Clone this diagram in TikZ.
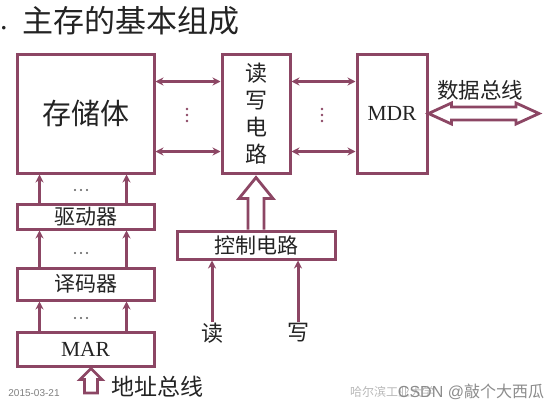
\documentclass[tikz,border=0pt]{standalone}
\usepackage{fontspec}
\setmainfont{Liberation Serif}
\newfontfamily\cjk{Noto Sans CJK SC}
\newfontfamily\sansf{Liberation Sans}
\usetikzlibrary{arrows.meta,calc}
\definecolor{mr}{RGB}{140,70,100}
\definecolor{tx}{RGB}{35,35,35}
\newcommand{\fs}[1]{\fontsize{#1}{#1}\selectfont}
\begin{document}
\begin{tikzpicture}[x=1pt,y=-1pt,
  box/.style={draw=mr,line width=3pt,inner sep=0pt,text=tx},
  lbl/.style={inner sep=0pt,text=tx},
  arr/.style={draw=mr,line width=3pt,-{Stealth[length=8pt,width=8pt]}},
  darr/.style={draw=mr,line width=3pt,{Stealth[length=8pt,width=8pt]}-{Stealth[length=8pt,width=8pt]}},
  hollow/.style={draw=mr,line width=2.8pt,fill=white,line join=miter}]
\useasboundingbox[fill=white] (0,0) rectangle (557,407);

% title
\node[lbl,font=\fs{30}] (tdot) at (4,28) {.};
\node[lbl,font=\cjk\fs{31}] (title) at (131,21) {主存的基本组成};

% left stack
\node[box,minimum width=137pt,minimum height=119pt,font=\cjk\fs{29}] (mem) at (85.5,113.5) {存储体};
\node[box,minimum width=137pt,minimum height=25pt,font=\cjk\fs{21}] (drv) at (85.5,216.5) {驱动器};
\node[box,minimum width=137pt,minimum height=32pt,font=\cjk\fs{21}] (dec) at (85.5,284) {译码器};
\node[box,minimum width=137pt,minimum height=34pt,font=\fs{21.5}] (mar) at (85.5,349) {MAR};

\foreach \a/\b in {drv/mem, dec/drv, mar/dec} {
  \draw[arr] ([xshift=24pt]\a.north west) -- ([xshift=24pt]\b.south west);
  \draw[arr] ([xshift=-29pt]\a.north east) -- ([xshift=-29pt]\b.south east);
}
% horizontal ellipsis dots
\foreach \y in {190,253,318}
  \foreach \dx in {-6,0,6}
    \fill[tx!75] (81+\dx,\y) circle (1.2pt);

% read/write circuit and MDR
\node[box,minimum width=68pt,minimum height=119pt,align=center,font=\cjk\fontsize{22}{27}\selectfont] (rw) at (256,113.5) {读\\写\\电\\路};
\node[box,minimum width=70pt,minimum height=119pt,font=\fs{21.5}] (mdr) at (392,113.5) {MDR};

\draw[darr] ([yshift=-29pt]mem.north east) -- ([yshift=-29pt]rw.north west);
\draw[darr] ([yshift=23pt]mem.south east) -- ([yshift=23pt]rw.south west);
\draw[darr] ([yshift=-29pt]rw.north east) -- ([yshift=-29pt]mdr.north west);
\draw[darr] ([yshift=23pt]rw.south east) -- ([yshift=23pt]mdr.south west);
% vertical ellipsis dots
\foreach \x in {187,322}
  \foreach \dy in {-6,0,6}
    \fill[mr] (\x,115+\dy) circle (1.3pt);

% control circuit
\node[box,minimum width=158pt,minimum height=28pt,font=\cjk\fs{21}] (ctl) at (256,245) {控制电路};
\coordinate (t1) at ([yshift=-3pt]rw.south);
\coordinate (b1) at (ctl.north);
\draw[hollow] ($(b1)+(-8,0)$) -- ($(t1)+(-8,21)$) -- ($(t1)+(-17,21)$) -- (t1) -- ($(t1)+(17,21)$) -- ($(t1)+(8,21)$) -- ($(b1)+(8,0)$);

\node[lbl,font=\cjk\fs{22}] (rd) at (212,333) {读};
\node[lbl,font=\cjk\fs{22}] (wr) at (298,333) {写};
\draw[arr] ([yshift=1pt]rd.north) -- (rd.north |- ctl.south);
\draw[arr] ([yshift=1pt]wr.north) -- (wr.north |- ctl.south);

% data bus
\coordinate (dL) at (mdr.east);
\coordinate (dR) at (539,113.5);
\draw[hollow] (dL) -- ($(dL)+(23,-10.5)$) -- ($(dL)+(23,-6.5)$) -- ($(dR)+(-23,-6.5)$) -- ($(dR)+(-23,-10.5)$) -- (dR) -- ($(dR)+(-23,10.5)$) -- ($(dR)+(-23,6.5)$) -- ($(dL)+(23,6.5)$) -- ($(dL)+(23,10.5)$) -- cycle;
\node[lbl,font=\cjk\fs{21.5}] (db) at (480,90) {数据总线};

% address bus
\coordinate (t2) at ([xshift=5.5pt,yshift=-1pt]mar.south);
\coordinate (b2) at (91,393);
\draw[hollow] (t2) -- ($(t2)+(11,11)$) -- ($(t2)+(6.5,11)$) -- (b2 -| {$(t2)+(6.5,0)$}) -- (b2 -| {$(t2)+(-6.5,0)$}) -- ($(t2)+(-6.5,11)$) -- ($(t2)+(-11,11)$) -- cycle;
\node[lbl,font=\cjk\fs{23}] (ab) at (157,387) {地址总线};

% footer
\node[lbl,text=gray,font=\sansf\fs{10}] (date) at (34,393) {2015-03-21};
\node[lbl,text=gray!55,font=\cjk\fs{12}] (wm1) at (392,392) {哈尔滨工业大学};
\node[lbl,text=gray!90,font=\sansf\fs{16}] (wm2) at (471,392) {CSDN @\cjk 敲个大西瓜};
\end{tikzpicture}
\end{document}
